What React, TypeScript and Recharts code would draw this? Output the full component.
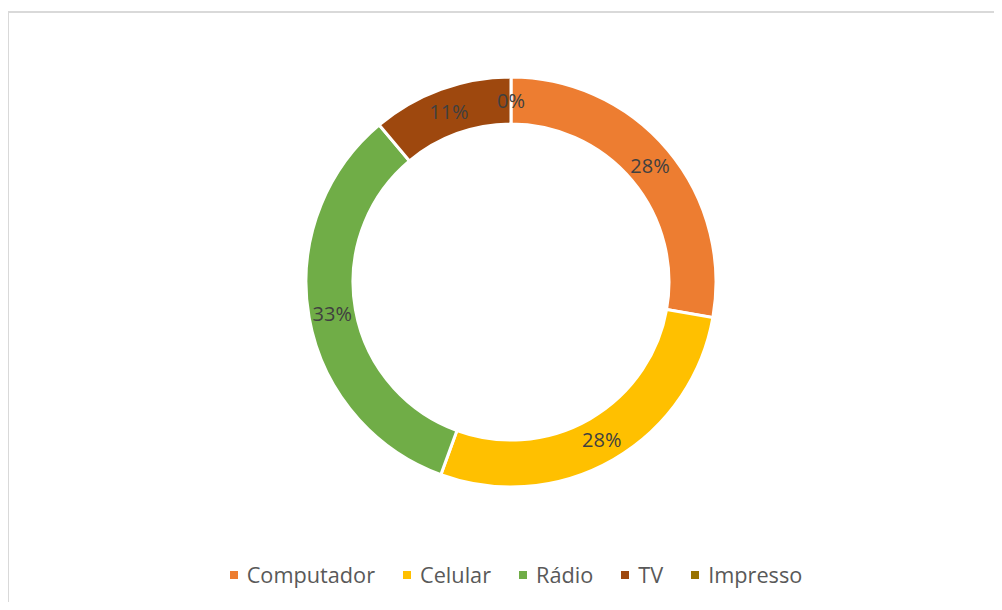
import React from 'react';
import { PieChart, Pie, Cell, Legend } from 'recharts';

const categories = ['Computador', 'Celular', 'Rádio', 'TV', 'Impresso'];
const counts = [5, 5, 6, 2, 0];
const colors = ['#ED7D31', '#FFC000', '#70AD47', '#9E480E', '#997300'];

const data = categories.map((name, i) => ({ name, value: counts[i] }));
const total = counts.reduce((a, b) => a + b, 0);

const RADIAN = Math.PI / 180;

const renderLabel = (props: any) => {
  const { cx, cy, midAngle, innerRadius, outerRadius, value } = props;
  const r = (innerRadius + outerRadius) / 2;
  const x = cx + r * Math.cos(-midAngle * RADIAN);
  const y = cy + r * Math.sin(-midAngle * RADIAN);
  const pct = Math.round((value / total) * 100);
  return (
    <text
      x={x}
      y={y}
      fill="#404040"
      textAnchor="middle"
      dominantBaseline="central"
      fontSize={20}
      fontFamily="'Open Sans', sans-serif"
    >
      {pct + '%'}
    </text>
  );
};

const renderLegend = () => (
  <div
    style={{
      display: 'flex',
      justifyContent: 'center',
      alignItems: 'center',
      paddingLeft: 30,
      fontFamily: "'Open Sans', sans-serif",
      fontSize: 21.7,
      color: '#595959',
    }}
  >
    {categories.map((c, i) => (
      <div key={c} style={{ display: 'flex', alignItems: 'center', marginRight: i < categories.length - 1 ? 28 : 0 }}>
        <span style={{ width: 8, height: 8, background: colors[i], display: 'inline-block', marginRight: 9 }} />
        <span>{c}</span>
      </div>
    ))}
  </div>
);

export default function App() {
  return (
    <div style={{ position: 'relative', width: 1002, height: 610, margin: -8, background: '#fff', overflow: 'hidden' }}>
      <div
        style={{
          position: 'absolute',
          left: 7,
          top: 11,
          width: 1010,
          height: 620,
          border: '2px solid #d9d9d9',
        }}
      />
      <div style={{ position: 'absolute', left: 0, top: 0 }}>
        <PieChart width={1002} height={610} margin={{ top: 0, right: 0, bottom: 0, left: 0 }}>
          <Pie
            data={data}
            dataKey="value"
            nameKey="name"
            cx={511}
            cy={282}
            innerRadius={158}
            outerRadius={205}
            startAngle={90}
            endAngle={-270}
            stroke="#ffffff"
            strokeWidth={3}
            label={renderLabel}
            labelLine={false}
            isAnimationActive={false}
          >
            {data.map((d, i) => (
              <Cell key={d.name} fill={colors[i]} />
            ))}
          </Pie>
          <Legend content={renderLegend} wrapperStyle={{ top: 560, left: 0, width: 1002 }} />
        </PieChart>
      </div>
    </div>
  );
}
